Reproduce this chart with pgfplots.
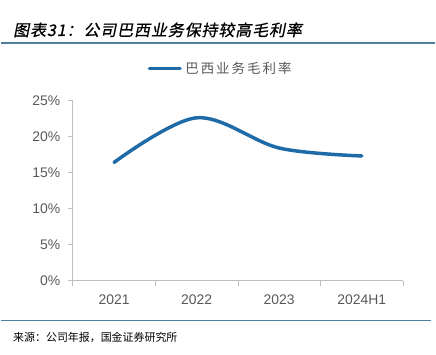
\documentclass[border=0pt]{standalone}
\usepackage{pgfplots}
\pgfplotsset{compat=1.18}
\usepackage{fontspec}
\setmainfont{Liberation Sans}
\newfontfamily\cjk{Noto Sans CJK SC}
\newfontfamily\cjklg{Noto Sans CJK SC}[LetterSpace=15]
\newfontfamily\cjkbi{Noto Sans CJK SC}[FakeBold=0.8,FakeSlant=0.2,LetterSpace=6]
\definecolor{linec}{HTML}{1F6BA8}
\definecolor{rulec}{HTML}{4E7F9E}
\definecolor{txtgray}{HTML}{595959}
\definecolor{axgray}{HTML}{BFBFBF}
\begin{document}
\begin{tikzpicture}
\path (0bp,0bp) rectangle (436bp,-356bp);
\node[anchor=west,inner sep=0] at (12bp,-30bp) {\cjkbi\fontsize{16bp}{18bp}\selectfont 图表31：公司巴西业务保持较高毛利率};
\draw[rulec,line width=2.2bp] (0bp,-43bp) -- (436bp,-43bp);
\draw[rulec,line width=1.2bp] (0bp,-322bp) -- (432bp,-322bp);
\node[anchor=west,inner sep=0] at (12bp,-339bp) {\cjk\fontsize{11bp}{13bp}\selectfont 来源：公司年报，国金证券研究所};
\draw[linec,line width=3.5bp,line cap=round] (149bp,-69bp) -- (180bp,-69bp);
\node[anchor=west,inner sep=0,text=txtgray] at (185bp,-69bp) {\cjklg\fontsize{13.5bp}{15bp}\selectfont 巴西业务毛利率};
\begin{axis}[
  at={(72bp,-282bp)}, anchor=south west,
  width=332bp, height=181bp, scale only axis,
  xmin=-0.5, xmax=3.5, ymin=0, ymax=25,
  axis x line*=bottom, axis y line*=left,
  axis line style={axgray, line width=0.8bp},
  xtick={0,1,2,3}, xticklabels={2021,2022,2023,2024H1},
  minor xtick={-0.5,0.5,1.5,2.5,3.5},
  major x tick style={draw=none},
  minor tick length=5bp,
  major tick length=5bp,
  tick align=outside,
  tick style={axgray, line width=0.8bp},
  ytick={0,5,10,15,20,25},
  yticklabel={\pgfmathprintnumber{\tick}\%},
  /pgf/number format/assume math mode=true,
  ticklabel style={font=\fontsize{14bp}{16bp}\selectfont, text=txtgray},
  xticklabel style={yshift=-6bp},
  yticklabel style={xshift=-4bp},
  clip=false,
]
\addplot[linec, line width=3.5bp, smooth, tension=0.55, line cap=round] coordinates {(0,16.4) (1,22.6) (2,18.4) (3,17.3)};
\end{axis}
\end{tikzpicture}
\end{document}
